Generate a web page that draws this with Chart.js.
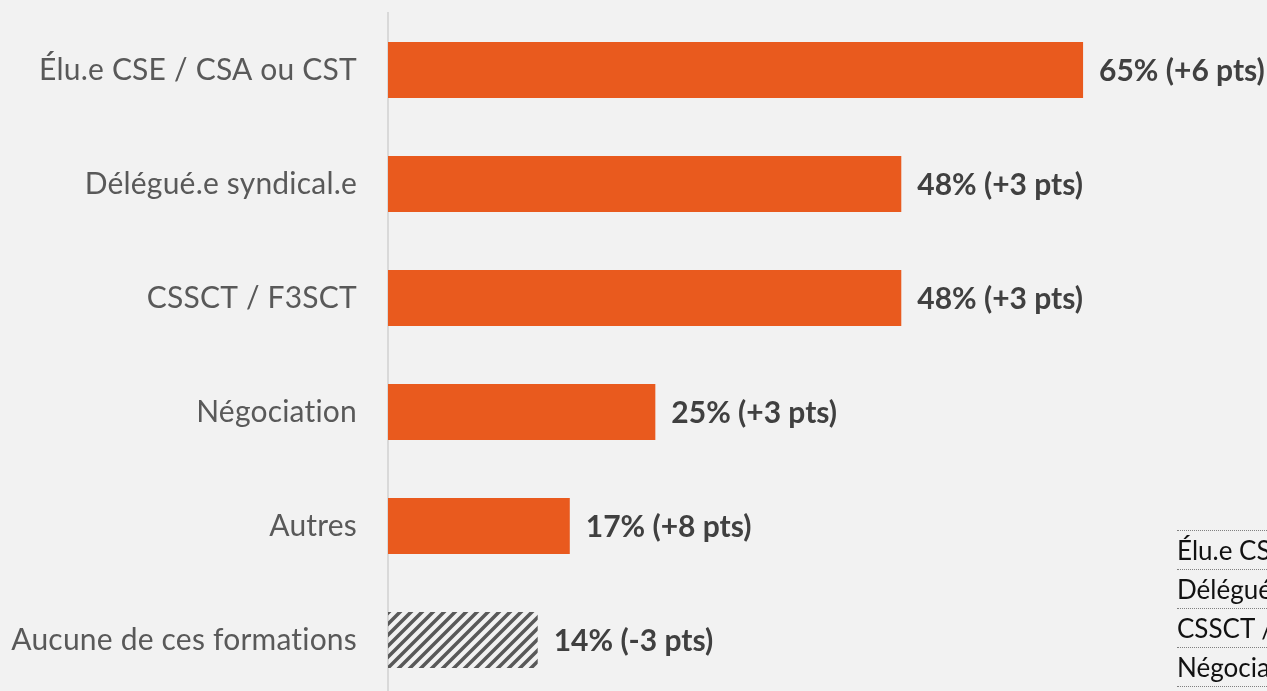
<!DOCTYPE html>
<html>
<head>
<meta charset="utf-8">
<script src="https://cdn.jsdelivr.net/npm/chart.js@4.4.0/dist/chart.umd.min.js"></script>
<style>
  html, body { margin: 0; padding: 0; background: #f2f2f2; overflow: hidden; }
  body { width: 1267px; height: 691px; position: relative; }
  #wrap { position: absolute; left: 0; top: 0; width: 1267px; height: 697px; }
  #legendTable {
    position: absolute; left: 1177px; top: 530px; width: 400px;
    font-family: Lato, sans-serif; font-size: 26px; color: #111;
    border-collapse: collapse; font-variant-ligatures: none;
  }
  #legendTable td {
    border-top: 1px dotted #808080; border-bottom: 1px dotted #808080;
    height: 38px; padding: 0; white-space: nowrap; vertical-align: middle;
  }
  #clip { position: absolute; left: 0; top: 0; width: 1267px; height: 691px; overflow: hidden; pointer-events: none; }
</style>
</head>
<body>
<div id="wrap"><canvas id="chartOne" width="1267" height="697"></canvas></div>
<div id="clip"><table id="legendTable"><tbody></tbody></table></div>
<script>
const categories = ['Élu.e CSE / CSA ou CST', 'Délégué.e syndical.e', 'CSSCT / F3SCT', 'Négociation', 'Autres', 'Aucune de ces formations'];
const values = [65, 48, 48, 25, 17, 14];
const deltas = [6, 3, 3, 3, 8, -3];
const tableRows = ['Élu.e CSE / CSA ou CST', 'Délégué.e syndical.e', 'CSSCT / F3SCT', 'Négociation'];

const tbody = document.querySelector('#legendTable tbody');
tableRows.forEach(function (t) {
  const tr = document.createElement('tr');
  const td = document.createElement('td');
  td.textContent = t;
  tr.appendChild(td);
  tbody.appendChild(tr);
});

// hatched fill for the last bar
const pc = document.createElement('canvas');
pc.width = 11; pc.height = 11;
const p = pc.getContext('2d');
p.strokeStyle = '#595959';
p.lineWidth = 3.5;
p.beginPath();
p.moveTo(-2, 13); p.lineTo(13, -2);
p.moveTo(-2, 2); p.lineTo(2, -2);
p.moveTo(9, 13); p.lineTo(13, 9);
p.stroke();
const hatch = document.createElement('canvas').getContext('2d').createPattern(pc, 'repeat');

const barColors = values.map(function (v, i) { return i === values.length - 1 ? hatch : '#e95a1e'; });

// small spacing keeps "ti" from turning into a ligature
const noLigatures = {
  id: 'noLigatures',
  beforeDraw(chart) {
    if ('letterSpacing' in chart.ctx) chart.ctx.letterSpacing = '0.2px';
  }
};

const valueLabels = {
  id: 'valueLabels',
  afterDatasetsDraw(chart) {
    const ctx = chart.ctx;
    const meta = chart.getDatasetMeta(0);
    ctx.save();
    if ('letterSpacing' in ctx) ctx.letterSpacing = '0px';
    ctx.font = 'bold 30px Lato, sans-serif';
    ctx.fillStyle = '#404040';
    ctx.textBaseline = 'middle';
    ctx.textAlign = 'left';
    meta.data.forEach(function (bar, i) {
      const d = deltas[i];
      const txt = values[i] + '% (' + (d > 0 ? '+' : '') + d + ' pts)';
      ctx.fillText(txt, bar.x + 16, bar.y + 1);
    });
    ctx.restore();
  }
};

const chart1 = document.getElementById('chartOne');

new Chart(chart1, {
  type: 'bar',
  data: {
    labels: categories,
    datasets: [{
      data: values,
      backgroundColor: barColors,
      borderWidth: 0,
      categoryPercentage: 1,
      barPercentage: 0.49
    }]
  },
  options: {
    indexAxis: 'y',
    responsive: false,
    animation: false,
    layout: { padding: 0 },
    plugins: {
      legend: { display: false },
      tooltip: { enabled: false }
    },
    scales: {
      x: {
        display: false,
        min: 0,
        max: 82.2
      },
      y: {
        afterFit(scale) {
          scale.width = 388;
          scale.paddingTop = 13;
          scale.paddingBottom = 0;
        },
        grid: { display: true, drawOnChartArea: false, drawTicks: true, tickLength: 31, color: 'rgba(0,0,0,0)' },
        border: { display: true, color: '#d9d9d9', width: 2 },
        ticks: {
          padding: 0,
          color: '#595959',
          font: { family: 'Lato, sans-serif', size: 30 }
        }
      }
    }
  },
  plugins: [noLigatures, valueLabels]
});
</script>
</body>
</html>
